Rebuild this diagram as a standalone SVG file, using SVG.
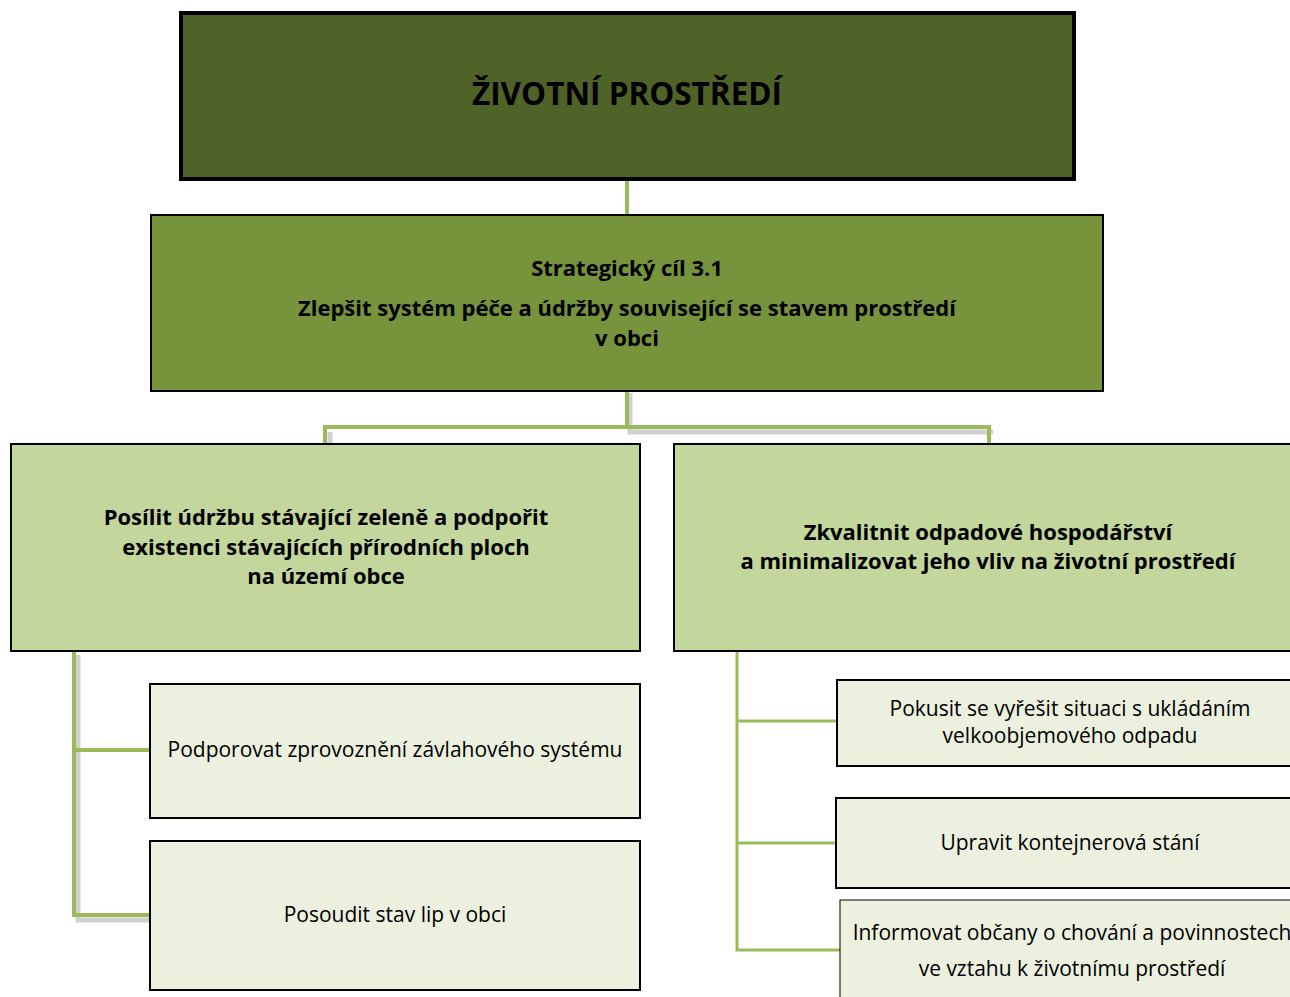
<svg xmlns="http://www.w3.org/2000/svg" width="1290" height="997" viewBox="0 0 1290 997">
<style>
text{font-family:"Open Sans","Noto Sans","Liberation Sans",sans-serif;fill:#000;text-anchor:middle}
.b{font-weight:bold}
.t{font-size:31.5px}
.m{font-size:22px}
.l{font-size:21px}
.con{fill:none;stroke:#9bbb59;stroke-width:4}
.sh{fill:none;stroke:#d0d0d0;stroke-width:5}
</style>
<rect width="1290" height="997" fill="#fff"/>
<g id="connectors">
<path class="sh" d="M630 393V432H993M330 432V445"/>
<path class="con" d="M627 180V214"/>
<path class="con" d="M627 391V427H989V443M627 427H325V443"/>
<path class="sh" d="M78 655V920H150"/>
<path class="con" d="M74 651V915H150M74 750H150"/>
<path class="con" style="stroke-width:3" d="M737 651V950H840M737 721H837M737 843H836"/>
</g>
<g id="n-top">
<rect x="181" y="13" width="893" height="166" fill="#4f6228" stroke="#000" stroke-width="4"/>
<text class="b t" x="627" y="105">ŽIVOTNÍ PROSTŘEDÍ</text>
</g>
<g id="n-goal">
<rect x="151" y="215" width="952" height="176" fill="#77933c" stroke="#000" stroke-width="2"/>
<text class="b m" x="627" y="276">Strategický cíl 3.1</text>
<text class="b m" x="627" y="316">Zlepšit systém péče a údržby související se stavem prostředí</text>
<text class="b m" x="627" y="346">v obci</text>
</g>
<g id="n-left">
<rect x="11" y="444" width="629" height="207" fill="#c3d69b" stroke="#000" stroke-width="2"/>
<text class="b m" x="326" y="525">Posílit údržbu stávající zeleně a podpořit</text>
<text class="b m" x="326" y="555">existenci stávajících přírodních ploch</text>
<text class="b m" x="326" y="584">na území obce</text>
</g>
<g id="n-right">
<rect x="674" y="444" width="630" height="207" fill="#c3d69b" stroke="#000" stroke-width="2"/>
<text class="b m" x="988" y="540">Zkvalitnit odpadové hospodářství</text>
<text class="b m" x="988" y="569">a minimalizovat jeho vliv na životní prostředí</text>
</g>
<g id="n-l1">
<rect x="150" y="684" width="490" height="134" fill="#ebf1de" stroke="#000" stroke-width="2"/>
<text class="l" x="395" y="757">Podporovat zprovoznění závlahového systému</text>
</g>
<g id="n-l2">
<rect x="150" y="841" width="490" height="149" fill="#ebf1de" stroke="#000" stroke-width="2"/>
<text class="l" x="395" y="922">Posoudit stav lip v obci</text>
</g>
<g id="n-r1">
<rect x="837" y="680" width="470" height="86" fill="#ebf1de" stroke="#000" stroke-width="2"/>
<text class="l" x="1070" y="716">Pokusit se vyřešit situaci s ukládáním</text>
<text class="l" x="1070" y="743">velkoobjemového odpadu</text>
</g>
<g id="n-r2">
<rect x="836" y="798" width="470" height="90" fill="#ebf1de" stroke="#000" stroke-width="2"/>
<text class="l" x="1070" y="850">Upravit kontejnerová stání</text>
</g>
<g id="n-r3">
<rect x="840" y="900" width="470" height="110" fill="#ebf1de" stroke="#000" stroke-width="1"/>
<text class="l" x="1072" y="940">Informovat občany o chování a povinnostech</text>
<text class="l" x="1072" y="976">ve vztahu k životnímu prostředí</text>
</g>
</svg>
